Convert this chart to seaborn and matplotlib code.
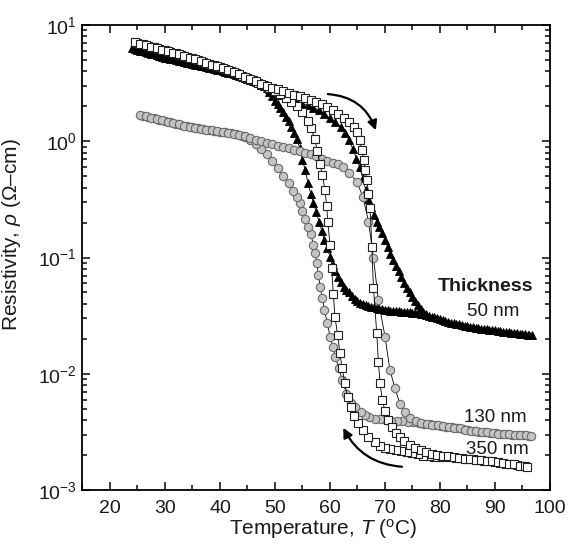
import matplotlib
matplotlib.use("Agg")
import matplotlib.pyplot as plt
from matplotlib.ticker import MultipleLocator, LogLocator
import pandas as pd
import seaborn as sns

# ---- 50 nm film (black triangles) ----
T_50_heat = [24, 25, 26, 27, 28, 29, 30, 31, 32, 33, 34, 35, 36, 37, 38, 39, 40, 41, 42, 43, 44,
             45, 46, 47, 48, 49, 50, 51, 52, 53, 54, 55, 56, 57, 58, 59, 60, 61, 62, 62.8, 63.5,
             64.2, 64.8, 65.4, 66.0, 66.5, 67.0, 67.5, 68.0, 68.5, 69.0, 69.5, 70.0, 70.5, 71.0,
             71.5, 72.0, 72.5, 73.0, 73.5, 74.0, 74.5, 75.0, 75.5, 76.0, 76.5, 77.0, 77.5, 78,
             79, 80, 81, 82, 83, 84, 85, 86, 87, 88, 89, 90, 91, 92, 93, 94, 95, 96, 96.7]
rho_50_heat = [6.3, 6.1, 5.95, 5.75, 5.6, 5.45, 5.25, 5.1, 5.0, 4.9, 4.75, 4.6, 4.5, 4.4, 4.3, 4.2,
               4.07, 3.95, 3.85, 3.7, 3.6, 3.45, 3.3, 3.15, 3.0, 2.8, 2.65, 2.5, 2.37, 2.27, 2.19,
               2.1, 2.04, 1.95, 1.84, 1.72, 1.58, 1.46, 1.33, 1.17, 1.02, 0.85, 0.71, 0.60, 0.48,
               0.38, 0.32, 0.27, 0.234, 0.204, 0.182, 0.162, 0.141, 0.123, 0.107, 0.095, 0.085,
               0.076, 0.068, 0.060, 0.055, 0.050, 0.046, 0.042, 0.039, 0.036, 0.034, 0.0327,
               0.0316, 0.0305, 0.0295, 0.0285, 0.0275, 0.0269, 0.0263, 0.0257, 0.0251, 0.0247,
               0.0243, 0.024, 0.0236, 0.0232, 0.0229, 0.0226, 0.0223, 0.022, 0.0217, 0.0214]
T_50_cool = [96.2, 95.5, 94.5, 93.5, 92.5, 91.5, 90.5, 89.5, 88.5, 87.5, 86.5, 85.5, 84.5, 83.5,
             82.5, 81.5, 80.5, 79.5, 78.5, 77.5, 77, 76.5, 76, 75.5, 75, 74.5, 74, 73.5, 73, 72.5,
             72, 71.5, 71, 70.5, 70, 69.5, 69, 68.5, 68, 67.5, 67, 66.5, 66, 65.5, 65, 64.5, 64,
             63.5, 63, 62.5, 62, 61.5, 61, 60.5, 60, 59.5, 59, 58.5, 58, 57.5, 57, 56.5, 56, 55.5,
             55, 54.5, 54, 53.5, 53, 52.5, 52, 51.5, 51, 50.5, 50, 49.5, 49, 48.5, 47.5, 46.5,
             45.5, 44.5, 43.5, 42.5, 41.5, 40.5, 39.5, 38.5, 37.5, 36.5, 35.5, 34.5, 33.5, 32.5,
             31.5, 30.5, 29.5, 28.5, 27.5, 26.5, 25.5, 24.5]
rho_50_cool = [0.0216, 0.0218, 0.0221, 0.0224, 0.0227, 0.023, 0.0234, 0.0238, 0.0241, 0.0245,
               0.0249, 0.0254, 0.026, 0.0266, 0.0272, 0.028, 0.029, 0.030, 0.031, 0.032, 0.0324,
               0.0328, 0.0331, 0.0333, 0.0335, 0.0337, 0.0339, 0.0341, 0.0343, 0.0345, 0.0347,
               0.0349, 0.035, 0.0352, 0.0355, 0.0359, 0.0363, 0.0367, 0.0372, 0.0376, 0.038,
               0.039, 0.040, 0.041, 0.042, 0.0437, 0.047, 0.050, 0.0525, 0.056, 0.062, 0.068,
               0.076, 0.087, 0.102, 0.12, 0.141, 0.17, 0.204, 0.245, 0.295, 0.355, 0.437, 0.562,
               0.69, 0.87, 1.05, 1.17, 1.32, 1.48, 1.62, 1.78, 1.95, 2.09, 2.24, 2.43, 2.63, 2.85,
               3.07, 3.22, 3.38, 3.52, 3.65, 3.78, 3.9, 4.0, 4.13, 4.25, 4.35, 4.45, 4.55, 4.68,
               4.82, 4.95, 5.05, 5.17, 5.35, 5.52, 5.68, 5.85, 6.0, 6.2]

# ---- 130 nm film (grey circles) ----
T_130_heat = [25.5, 26.5, 27.5, 28.5, 29.5, 30.5, 31.5, 32.5, 33.5, 34.5, 35.5, 36.5, 37.5, 38.5,
              39.5, 40.5, 41.5, 42.5, 43.5, 44.5, 45.5, 46.5, 47.5, 48.5, 49.5, 50.5, 51.5, 52.5,
              53.5, 54.5, 55.5, 56.5, 57.5, 58.5, 59.5, 60.5, 61.5, 62.4, 63.5, 64.9, 66.0, 67.0,
              67.9, 68.8, 70.0, 70.9, 71.8, 72.7, 73.6, 74.6, 75.6, 76.6, 77.6, 78.6, 79.6, 80.6,
              81.6, 82.6, 83.6, 84.6, 85.6, 86.6, 87.6, 88.6, 89.6, 90.6, 91.6, 92.6, 93.6, 94.6,
              95.6, 96.6]
rho_130_heat = [1.68, 1.64, 1.60, 1.55, 1.51, 1.47, 1.43, 1.40, 1.36, 1.33, 1.30, 1.28, 1.26, 1.24,
                1.22, 1.20, 1.18, 1.16, 1.135, 1.11, 1.07, 1.035, 1.0, 0.966, 0.938, 0.912, 0.891,
                0.871, 0.847, 0.822, 0.80, 0.776, 0.741, 0.708, 0.679, 0.653, 0.631, 0.603, 0.537,
                0.447, 0.331, 0.204, 0.10, 0.0427, 0.0209, 0.0107, 0.0076, 0.0055, 0.0047, 0.0042,
                0.0039, 0.0038, 0.0037, 0.00363, 0.00359, 0.00355, 0.00347, 0.00343, 0.00339,
                0.00331, 0.00324, 0.0032, 0.00316, 0.00313, 0.00309, 0.00305, 0.00302, 0.00302,
                0.00299, 0.00295, 0.00295, 0.00292]
T_130_cool = [96.1, 95.1, 94.1, 93.1, 92.1, 91.1, 90.1, 89.1, 88.1, 87.1, 86.1, 85.1, 84.1, 83.1,
              82.1, 81.1, 80.1, 79.1, 78.1, 77.1, 76.1, 75.1, 74.1, 73.1, 72.1, 71.1, 70.1, 69.1,
              68.1, 67.1, 66.3, 65.6, 64.6, 63.8, 63.0, 62.2, 61.6, 61.0, 60.5, 60.0, 59.5, 59.0,
              58.6, 58.2, 57.9, 57.6, 57.3, 57.0, 56.5, 56.0, 55.5, 55.0, 54.5, 54.0, 53.3, 52.5,
              51.5, 50.5, 49.5, 48.5, 47.5, 46.5, 45.5, 44.5, 44.0, 43.0, 42.0, 41.0, 40.0, 39.0,
              38.0, 37.0, 36.0, 35.0, 34.0, 33.0, 32.0, 31.0, 30.0, 29.0, 28.0, 27.0, 26.0]
rho_130_cool = [0.00293, 0.00295, 0.00297, 0.0030, 0.00302, 0.00303, 0.00307, 0.00311, 0.00314,
                0.00318, 0.00322, 0.00327, 0.00335, 0.00341, 0.00345, 0.00351, 0.00357, 0.00361,
                0.00366, 0.00372, 0.0038, 0.00385, 0.00386, 0.00389, 0.00391, 0.00396, 0.0040,
                0.00405, 0.00412, 0.00422, 0.00445, 0.00468, 0.00513, 0.00562, 0.00676, 0.0089,
                0.0112, 0.0138, 0.017, 0.0209, 0.0275, 0.0355, 0.0447, 0.0562, 0.0708, 0.0891,
                0.11, 0.129, 0.158, 0.182, 0.214, 0.251, 0.295, 0.331, 0.372, 0.437, 0.50, 0.589,
                0.676, 0.776, 0.851, 0.944, 1.02, 1.08, 1.12, 1.15, 1.17, 1.19, 1.21, 1.23, 1.25,
                1.27, 1.29, 1.315, 1.345, 1.38, 1.41, 1.45, 1.49, 1.53, 1.575, 1.62, 1.66]

# ---- 350 nm film (open squares) ----
T_350_heat = [24.5, 25.5, 26.5, 27.5, 28.5, 29.5, 30.5, 31.5, 32.5, 33.5, 34.5, 35.5, 36.5, 37.5,
              38.5, 39.5, 40.5, 41.5, 42.5, 43.5, 44.5, 45.5, 46.5, 47.5, 48.5, 49.5, 50.5, 51.5,
              52.5, 53.5, 54.5, 55.5, 56.5, 57.5, 58.5, 59.5, 60.5, 61.5, 62.5, 63.5, 64.3, 64.9,
              65.4, 65.8, 66.1, 66.4, 66.7, 67.0, 67.3, 67.6, 67.9, 68.5, 68.8, 69.1, 69.5, 70.0,
              70.6, 71.3, 72.0, 72.7, 73.5, 74.5, 75.5, 76.5, 77.5, 78.5, 79.5, 80.5, 81.5, 82.5,
              83.5, 84.5, 85.5, 86.5, 87.5, 88.5, 89.5, 90.5, 91.5, 92.5, 93.5, 94.5, 95.5, 95.8]
rho_350_heat = [7.08, 6.89, 6.70, 6.52, 6.31, 6.12, 5.96, 5.78, 5.61, 5.43, 5.25, 5.07, 4.90, 4.73,
                4.57, 4.42, 4.27, 4.12, 3.98, 3.80, 3.55, 3.43, 3.27, 3.13, 2.99, 2.88, 2.79, 2.69,
                2.60, 2.51, 2.43, 2.34, 2.26, 2.19, 2.09, 1.97, 1.84, 1.72, 1.58, 1.45, 1.32, 1.20,
                1.02, 0.841, 0.692, 0.562, 0.468, 0.355, 0.269, 0.123, 0.055, 0.0224, 0.0126,
                0.0083, 0.0060, 0.0048, 0.0040, 0.00347, 0.00309, 0.00288, 0.00263, 0.00245,
                0.00232, 0.00221, 0.00211, 0.00204, 0.0020, 0.00197, 0.00195, 0.00193, 0.0019,
                0.00186, 0.00184, 0.00182, 0.0018, 0.00178, 0.00176, 0.00174, 0.0017, 0.00168,
                0.00166, 0.00162, 0.0016, 0.00158]
T_350_cool = [95.0, 94.0, 93.0, 92.0, 91.0, 90.0, 89.0, 88.0, 87.0, 86.0, 85.0, 84.0, 83.0, 82.0,
              81.0, 80.0, 79.0, 78.0, 77.0, 76.0, 75.0, 74.0, 73.0, 72.0, 71.0, 70.0, 69.1, 68.2,
              67.0, 66.0, 65.1, 64.4, 63.8, 63.2, 62.7, 62.2, 61.8, 61.4, 60.9, 60.6, 60.3, 60.0,
              59.6, 59.4, 59.1, 58.6, 58.2, 57.7, 57.2, 56.6, 56.0, 55.0, 54.0, 53.0, 52.0, 51.0,
              50.0, 49.0, 48.0, 47.0, 46.0, 45.0, 44.0, 43.0, 42.0, 41.0, 40.0, 39.0, 38.0, 37.0,
              36.0, 35.0, 34.0, 33.0, 32.0, 31.0, 30.0, 29.0, 28.0, 27.0, 26.0, 25.0]
rho_350_cool = [0.00161, 0.00164, 0.00167, 0.00169, 0.00172, 0.00175, 0.00177, 0.00179, 0.00181,
                0.00183, 0.00185, 0.00188, 0.0019, 0.00191, 0.00192, 0.00193, 0.00194, 0.00195,
                0.00198, 0.00204, 0.00209, 0.00213, 0.00217, 0.0022, 0.00224, 0.0023, 0.0024,
                0.00257, 0.00288, 0.00331, 0.0038, 0.00437, 0.00513, 0.0063, 0.0083, 0.0112,
                0.0151, 0.0214, 0.0309, 0.049, 0.0813, 0.129, 0.204, 0.275, 0.38, 0.513, 0.631,
                0.832, 1.05, 1.29, 1.48, 1.78, 2.0, 2.19, 2.37, 2.54, 2.72, 2.88, 3.05, 3.2, 3.35,
                3.49, 3.65, 3.9, 4.05, 4.2, 4.35, 4.5, 4.65, 4.82, 4.98, 5.16, 5.34, 5.52, 5.7,
                5.87, 6.04, 6.22, 6.42, 6.6, 6.8, 7.0]

films = ["50 nm", "130 nm", "350 nm"]
branches = {
    ("50 nm", "heat"): (T_50_heat, rho_50_heat),
    ("50 nm", "cool"): (T_50_cool, rho_50_cool),
    ("130 nm", "heat"): (T_130_heat, rho_130_heat),
    ("130 nm", "cool"): (T_130_cool, rho_130_cool),
    ("350 nm", "heat"): (T_350_heat, rho_350_heat),
    ("350 nm", "cool"): (T_350_cool, rho_350_cool),
}
frames = []
for (film, sweep), (t, r) in branches.items():
    frames.append(pd.DataFrame({"T": t, "rho": r, "film": film, "sweep": sweep}))
data = pd.concat(frames, ignore_index=True)

marker_style = {
    "50 nm": dict(marker="^", ms=5.4, mfc="black", mec="black", mew=0.6),
    "130 nm": dict(marker="o", ms=6.0, mfc="#c4c4c4", mec="#6a6a6a", mew=0.8),
    "350 nm": dict(marker="s", ms=5.2, mfc="white", mec="#202020", mew=0.8),
}

sns.set_theme(style="ticks")
plt.rcParams['font.family'] = ['Liberation Sans', 'DejaVu Sans']
plt.rcParams['mathtext.fontset'] = 'custom'
plt.rcParams['mathtext.rm'] = 'Liberation Sans'
plt.rcParams['mathtext.it'] = 'Liberation Sans:italic'
plt.rcParams['mathtext.bf'] = 'Liberation Sans:bold'
for key in ['text.color', 'axes.labelcolor', 'xtick.color', 'ytick.color']:
    plt.rcParams[key] = '#1a1a1a'

fig = plt.figure(figsize=(5.68, 5.47), dpi=100)
ax = fig.add_axes([0.1452, 0.1042, 0.8231, 0.8501])
ax.set_yscale('log')

for film in films:
    for sweep in ["cool", "heat"]:
        sub = data[(data.film == film) & (data.sweep == sweep)]
        sns.lineplot(data=sub, x="T", y="rho", sort=False, estimator=None, ax=ax,
                     color="black", lw=0.6, legend=False, **marker_style[film])

ax.set_xlim(15, 100)
ax.set_ylim(1e-3, 1e1)
ax.set_xticks(range(20, 101, 10))
ax.xaxis.set_minor_locator(MultipleLocator(5))
ax.yaxis.set_major_locator(LogLocator(base=10, numticks=10))
ax.yaxis.set_minor_locator(LogLocator(base=10, subs=range(2, 10), numticks=50))
ax.tick_params(which='both', direction='in', top=True, right=True, labelsize=14, width=1.2)
ax.tick_params(which='major', length=6)
ax.tick_params(which='minor', length=3.5)
ax.tick_params(axis='x', pad=7)
ax.tick_params(axis='y', pad=4)
for s in ax.spines.values():
    s.set_linewidth(1.3)
    s.set_color("black")

ax.set_xlabel(r'Temperature, $\mathit{T}$ ($^{\rm o}$C)', fontsize=15)
ax.xaxis.set_label_coords(0.515, -0.058)
ax.set_ylabel('Resistivity, $\\rho$ (\u03a9\u2013cm)', fontsize=15)
ax.yaxis.set_label_coords(-0.127, 0.55)

ax.text(0.861, 0.437, "Thickness", transform=ax.transAxes, ha="center", va="center",
        fontsize=14, fontweight="bold")
ax.text(0.878, 0.384, "50 nm", transform=ax.transAxes, ha="center", va="center", fontsize=13.5)
ax.text(0.882, 0.155, "130 nm", transform=ax.transAxes, ha="center", va="center", fontsize=13.5)
ax.text(0.887, 0.087, "350 nm", transform=ax.transAxes, ha="center", va="center", fontsize=13.5)

# heating / cooling arrows
ax.annotate("", xy=(68.5, 1.18), xytext=(59.1, 2.55),
            arrowprops=dict(arrowstyle="-|>", connectionstyle="arc3,rad=-0.35",
                            color="black", lw=1.6, mutation_scale=14))
ax.annotate("", xy=(62.2, 0.0036), xytext=(73.6, 0.00158),
            arrowprops=dict(arrowstyle="-|>", connectionstyle="arc3,rad=-0.3",
                            color="black", lw=1.6, mutation_scale=14))

fig.savefig("out.png", dpi=100)
